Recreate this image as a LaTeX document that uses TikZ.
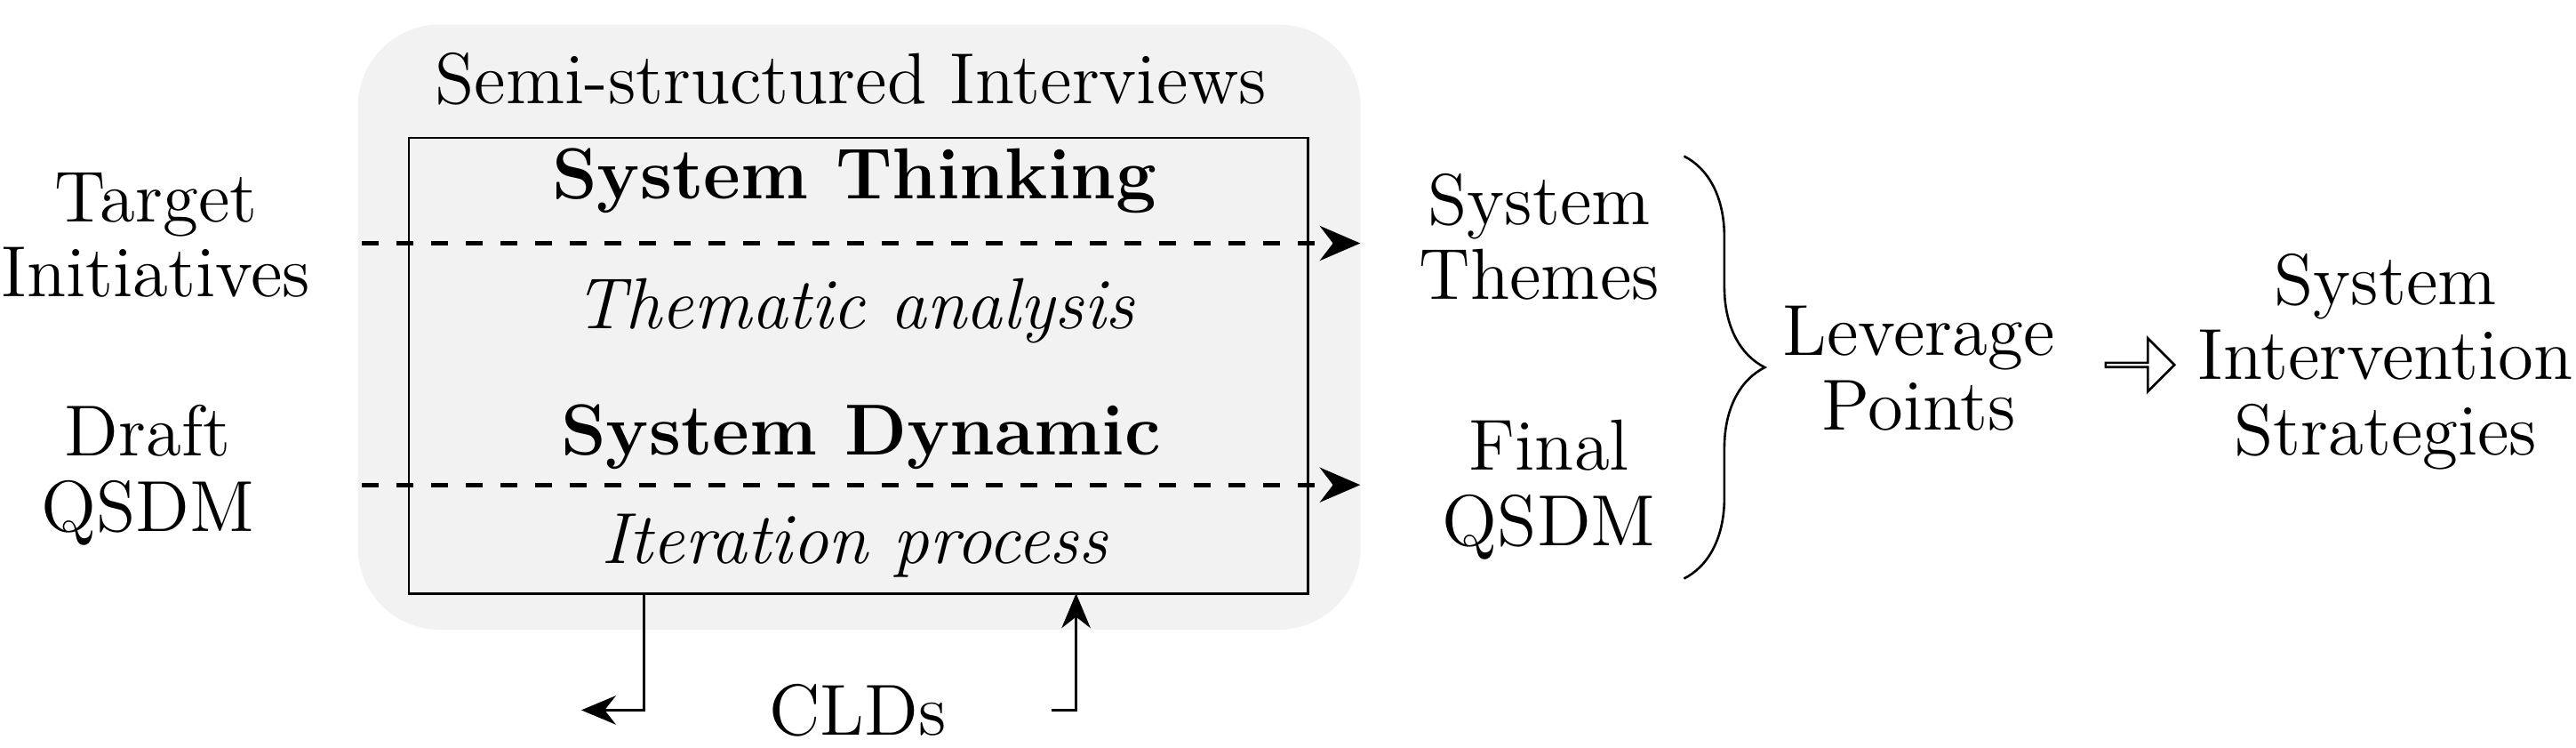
\documentclass[tikz,border=0pt]{standalone}
\usetikzlibrary{arrows.meta,decorations.pathreplacing,shapes.arrows,positioning}
\definecolor{panelgray}{HTML}{F2F2F2}
\tikzset{
  txt/.style={align=center,font=\fontsize{12.5}{13}\selectfont,inner sep=1pt},
  dasharrow/.style={thick,dashed,-{Stealth[length=7pt,width=6pt]}},
  flow/.style={thin,-{Stealth[length=6pt,width=5pt]}}
}
\begin{document}
\begin{tikzpicture}[x=0.01cm,y=-0.01cm]
\useasboundingbox (0,0) rectangle (1568,455);
% interview panel
\node[fill=panelgray,rounded corners=0.5cm,minimum width=6.1cm,minimum height=3.68cm] (panel) at (523,199) {};
\node[txt] (title) at (518,48) {Semi-structured Interviews};
\node[draw,minimum width=5.47cm,minimum height=2.77cm,inner sep=0pt] (box) at (522.5,222.5) {};
\node[txt] (st) at (520,110) {\textbf{System Thinking}};
\node[txt] (ta) at (520,189) {\itshape Thematic analysis};
\node[txt] (sd) at (524,266) {\textbf{System Dynamic}};
\node[txt] (ip) at (520,332) {\itshape Iteration process};
% inputs and outputs
\node[txt] (target) at (95,143) {Target\\Initiatives};
\node[txt] (draft) at (90,289) {Draft\\QSDM};
\node[txt] (themes) at (937,144) {System\\Themes};
\node[txt] (final) at (943,298) {Final\\QSDM};
\coordinate (in1) at (220,148);
\coordinate (out1) at (828,148);
\coordinate (in2) at (220,295);
\coordinate (out2) at (828,295);
\draw[dasharrow] (in1) -- (out1);
\draw[dasharrow] (in2) -- (out2);
% leverage points
\coordinate (bt) at (1025,95);
\coordinate (bb) at (1025,352);
\draw[decorate,decoration={brace,amplitude=14pt}] (bt) -- (bb);
\node[txt] (lev) at (1168,224) {Leverage\\Points};
\node[draw,single arrow,minimum height=1.1cm,minimum width=0.85cm,single arrow head extend=0.08cm,inner sep=0pt,scale=0.38] (arr) at (1302,222) {};
\node[txt] (strat) at (1452,220) {System\\Intervention\\Strategies};
% causal loop diagrams
\node[txt] (clds) at (522,432) {CLDs};
\coordinate (c1) at (392,361);
\coordinate (c2) at (655,361);
\draw[flow] (c1) |- ([xshift=-1.1cm]clds.west);
\draw[flow] ([xshift=0.6cm]clds.east) -| (c2);
\end{tikzpicture}
\end{document}
